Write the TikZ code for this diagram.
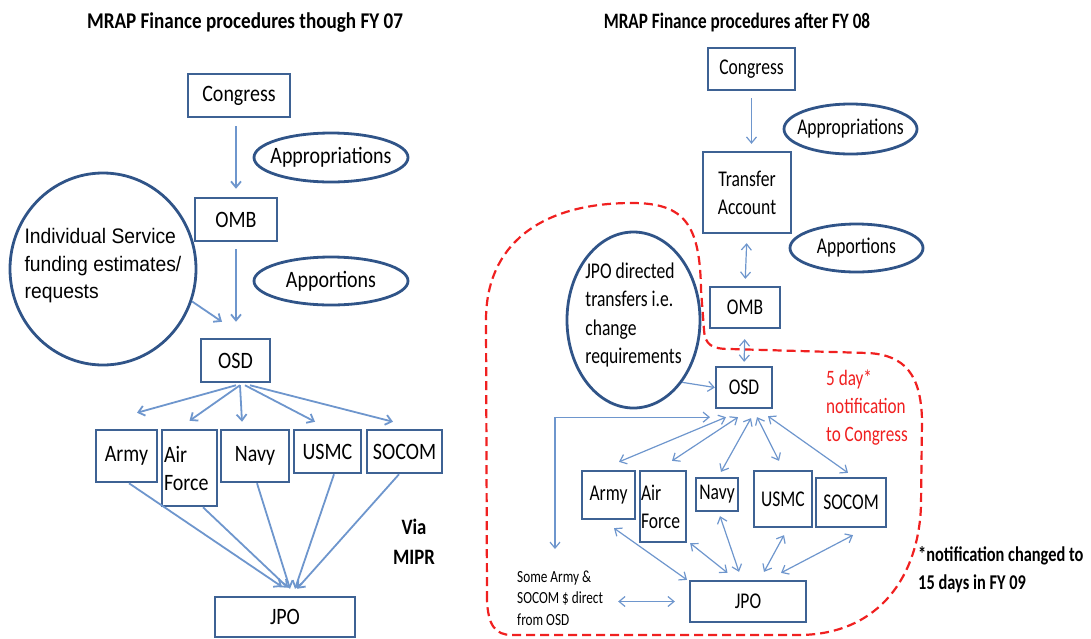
\documentclass[tikz,border=0pt]{standalone}
\usepackage{fontspec}
\setmainfont{Carlito}
\newfontfamily\lfont[FakeStretch=0.85]{Carlito}
\newfontfamily\rfont[FakeStretch=0.78]{Carlito}
\newfontfamily\afont[FakeStretch=0.92]{Liberation Sans}
\usepackage{tikz}
\usetikzlibrary{positioning, arrows.meta, shapes.geometric}
\definecolor{boxblue}{RGB}{62,98,148}
\definecolor{ovalblue}{RGB}{48,84,136}
\definecolor{arrowblue}{RGB}{110,150,205}
\definecolor{notered}{RGB}{240,32,32}

\begin{document}
\begin{tikzpicture}[x=1pt, y=-1pt, >={Straight Barb[length=6pt,width=10pt]},
	box/.style={draw=boxblue, line width=2.5pt, inner sep=0pt, font=\lfont\fontsize{23.5}{28}\selectfont},
	rbox/.style={box, line width=2.3pt, font=\rfont\fontsize{22.5}{28}\selectfont},
	oval/.style={ellipse, draw=ovalblue, line width=2.8pt, inner sep=0pt},
	flow/.style={->, draw=arrowblue, line width=1.8pt},
	rflow/.style={->, draw=arrowblue, line width=1.2pt},
	twoway/.style={<->, draw=arrowblue, line width=1.2pt},
	boundary/.style={draw=notered, line width=2.2pt, dash pattern=on 9pt off 5pt}]
			\useasboundingbox (0,0) rectangle (1091,638);
			
			\draw[boundary] (487,600) -- (486,320) .. controls (486,245) and (540,203) .. (632,203) .. controls (685,203) and (700,225) .. (701,290) -- (704,330) .. controls (705,345) and (712,349) .. (730,349) -- (868,353) .. controls (905,355) and (921,375) .. (922,420) -- (921,505) .. controls (919,575) and (880,634) .. (800,635) -- (512,635) .. controls (495,635) and (488,625) .. (487,600) -- cycle;
			
			% through FY 07
			\node[font=\lfont\bfseries\fontsize{22.5}{27}\selectfont] (titleL) at (245,23) {MRAP Finance procedures though FY 07};
			\node[box, minimum width=102pt, minimum height=43pt] (congL) at (239,95.5) {Congress};
			\node[box, minimum width=82pt, minimum height=43pt] (ombL) at (236,219.5) {OMB};
			\node[box, minimum width=69pt, minimum height=43pt] (osdL) at (235.5,360.5) {OSD};
			\node[box, minimum width=61pt, minimum height=52pt] (armyL) at (126.5,456) {Army};
			\node[box, minimum width=55pt, minimum height=76pt, text width=51pt, align=left] (afL) at (189.5,468) {Air\\Force};
			\node[box, minimum width=68pt, minimum height=52pt] (navyL) at (255,456) {Navy};
			\node[box, minimum width=67pt, minimum height=43pt] (usmcL) at (327.5,451.5) {USMC};
			\node[box, minimum width=75pt, minimum height=43pt] (socomL) at (404.5,451.5) {SOCOM};
			\node[box, minimum width=140pt, minimum height=40pt] (jpoL) at (285,617) {JPO};
			\node[oval, minimum width=154pt, minimum height=49pt, label={[font=\lfont\fontsize{23.5}{28}\selectfont]center:Appropriations}] (apprL) at (331,157.5) {};
			\node[oval, minimum width=154pt, minimum height=48pt, label={[font=\lfont\fontsize{23.5}{28}\selectfont]center:Apportions}] (apporL) at (331,281) {};
			\node[oval, minimum width=186pt, minimum height=192pt, label={[font=\afont\fontsize{21}{27.5}\selectfont, align=left, yshift=3pt]center:Individual Service\\funding estimates/\\requests}] (servL) at (103,269) {};
			\node[font=\lfont\bfseries\fontsize{22}{30}\selectfont, align=center] (mipr) at (414,542) {Via\\MIPR};
			
			\draw[flow, shorten <=8pt, shorten >=8pt] (congL.south -| ombL.north) -- (ombL.north);
			\draw[flow, shorten <=7pt, shorten >=16pt] (ombL.south) -- (osdL.north -| ombL.south);
			\draw[flow] (servL.-20) -- ([xshift=-13.5pt,yshift=16pt]osdL.north);
			\draw[flow] ([xshift=0.5pt,yshift=-2pt]osdL.south) -- ([xshift=10.5pt,yshift=16pt]armyL.north);
			\draw[flow] ([xshift=4.5pt,yshift=-2pt]osdL.south) -- ([yshift=8pt]afL.north);
			\draw[flow] ([xshift=4.5pt,yshift=-2pt]osdL.south) -- ([xshift=-13pt,yshift=7pt]navyL.north);
			\draw[flow] ([xshift=9.5pt,yshift=-2pt]osdL.south) -- ([xshift=-12.5pt,yshift=7pt]usmcL.north);
			\draw[flow] ([xshift=14.5pt,yshift=-2pt]osdL.south) -- ([xshift=-11.5pt,yshift=7pt]socomL.north);
			\draw[flow] ([xshift=2.5pt]armyL.south) -- ([xshift=-3pt,yshift=9pt]jpoL.north);
			\draw[flow] ([xshift=13.5pt]afL.south) -- ([xshift=3pt,yshift=8pt]jpoL.north);
			\draw[flow] ([xshift=2pt]navyL.south) -- ([xshift=5pt,yshift=7pt]jpoL.north);
			\draw[flow] ([xshift=6.5pt]usmcL.south) -- ([xshift=10pt,yshift=7pt]jpoL.north);
			\draw[flow] ([xshift=-5.5pt]socomL.south) -- ([xshift=12pt,yshift=7pt]jpoL.north);
			
			% after FY 08
			\node[font=\rfont\bfseries\fontsize{22}{27}\selectfont] (titleR) at (737,23) {MRAP Finance procedures after FY 08};
			\node[rbox, minimum width=87pt, minimum height=42pt] (congR) at (751.5,69) {Congress};
			\node[rbox, minimum width=88pt, minimum height=81pt, align=center] (taR) at (747,192.5) {Transfer\\Account};
			\node[rbox, minimum width=70pt, minimum height=41pt] (ombR) at (745,307.5) {OMB};
			\node[rbox, minimum width=56pt, minimum height=41pt] (osdR) at (744,387.5) {OSD};
			\node[rbox, minimum width=53pt, minimum height=48pt] (armyR) at (608.5,495) {Army};
			\node[rbox, minimum width=46pt, minimum height=71pt, text width=44pt, align=left] (afR) at (663,506.5) {Air\\Force};
			\node[rbox, minimum width=42pt, minimum height=33pt] (navyR) at (717,494.5) {Navy};
			\node[rbox, minimum width=58pt, minimum height=56pt] (usmcR) at (783,499) {USMC};
			\node[rbox, minimum width=70pt, minimum height=49pt] (socomR) at (851,502.5) {SOCOM};
			\node[rbox, minimum width=116pt, minimum height=41pt] (jpoR) at (748,601.5) {JPO};
			\node[oval, minimum width=133pt, minimum height=50pt, label={[font=\rfont\fontsize{22.5}{28}\selectfont]center:Appropriations}] (apprR) at (850.5,129) {};
			\node[oval, minimum width=133pt, minimum height=48pt, label={[font=\rfont\fontsize{22.5}{28}\selectfont]center:Apportions}] (apporR) at (856.5,248) {};
			\node[oval, minimum width=133pt, minimum height=176pt, label={[font=\rfont\fontsize{22.5}{28.5}\selectfont, align=left, yshift=5pt]center:JPO directed\\transfers i.e.\\change\\requirements}] (dirR) at (633.5,320) {};
			\node[font=\rfont\fontsize{22}{28}\selectfont, text=notered, align=left, anchor=west, inner sep=0pt] (fiveday) at (826,408) {5 day*\\notification\\to Congress};
			\node[font=\rfont\bfseries\fontsize{21}{28}\selectfont, align=left, anchor=west, inner sep=0pt] (changed) at (918,570) {*notification changed to\\15 days in FY 09};
			\node[font=\rfont\fontsize{17}{21.5}\selectfont, align=left, anchor=west, inner sep=0pt] (direct) at (517,598) {Some Army \&\\SOCOM \$ direct\\from OSD};
			\coordinate (osdtap) at (555,549);
			
			\draw[rflow, shorten <=7pt, shorten >=7pt] (congR.south) -- (congR.south |- taR.north);
			\draw[twoway, shorten <=9pt, shorten >=7pt] (taR.south) -- (ombR.north);
			\draw[twoway, shorten <=10pt, shorten >=4pt] (ombR.south) -- (osdR.north);
			\draw[rflow] (dirR.-52) -- (osdR.west);
			\draw[twoway] ([xshift=-34pt,yshift=-8pt]osdR.south) -| (osdtap);
			\draw[twoway] ([xshift=-18pt,yshift=-8pt]osdR.south) -- ([xshift=10.5pt,yshift=8pt]armyR.north);
			\draw[twoway] ([xshift=-6pt,yshift=-8pt]osdR.south) -- ([xshift=9pt,yshift=9pt]afR.north);
			\draw[twoway] ([xshift=7pt,yshift=-9pt]osdR.south) -- ([xshift=4pt,yshift=5pt]navyR.north);
			\draw[twoway] ([xshift=13pt,yshift=-8pt]osdR.south) -- ([xshift=-4pt,yshift=9pt]usmcR.north);
			\draw[twoway] ([xshift=24pt,yshift=-7pt]osdR.south) -- ([xshift=-3pt,yshift=4pt]socomR.north);
			\draw[twoway] ([xshift=5.5pt,yshift=-8pt]armyR.south) -- ([xshift=-61pt]jpoR.north);
			\draw[twoway] ([xshift=3pt]afR.south east) -- ([xshift=-20.5pt,yshift=7pt]jpoR.north);
			\draw[twoway] ([xshift=3pt,yshift=-4pt]navyR.south) -- ([xshift=-9pt,yshift=8pt]jpoR.north);
			\draw[twoway] ([xshift=1pt,yshift=-7pt]usmcR.south) -- ([xshift=16pt,yshift=8pt]jpoR.north);
			\draw[twoway] ([xshift=2pt,yshift=-7pt]socomR.south) -- ([xshift=33pt,yshift=7pt]jpoR.north);
			\draw[twoway, shorten <=15pt, shorten >=14pt] (direct.east |- jpoR.west) -- (jpoR.west);
			
		\end{tikzpicture}
\end{document}
